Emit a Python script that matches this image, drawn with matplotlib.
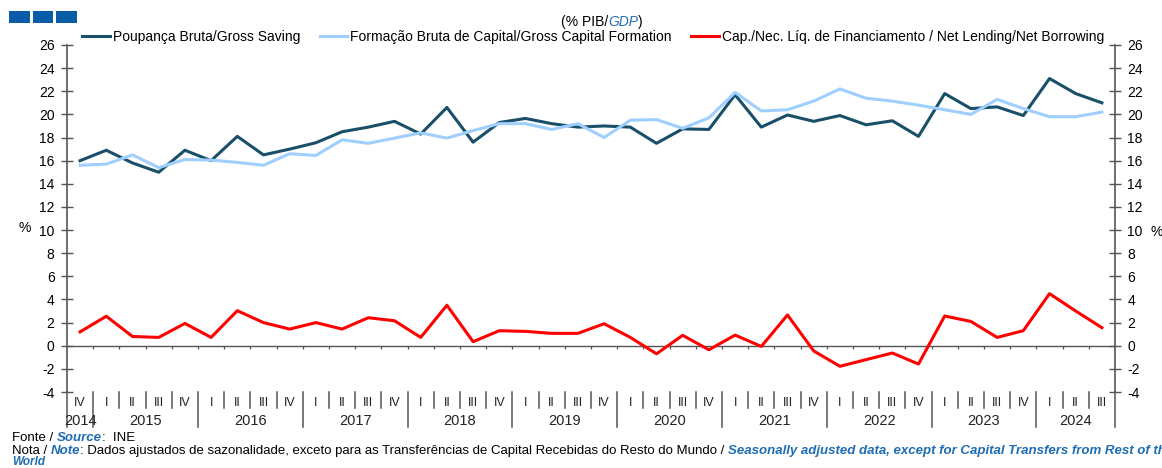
import numpy as np
import matplotlib.pyplot as plt
from matplotlib.patches import Rectangle

plt.rcParams['font.family'] = ['Liberation Sans', 'DejaVu Sans']
plt.rcParams['axes.unicode_minus'] = False

# ---------------------------
# dados (% PIB), 2014 IV .. 2024 III
# ---------------------------
quarters = ['IV'] + ['I', 'II', 'III', 'IV'] * 9 + ['I', 'II', 'III']
years = ['2014', '2015', '2016', '2017', '2018', '2019', '2020', '2021', '2022', '2023', '2024']

gross_saving = [16.0, 16.9, 15.8, 15.0, 16.9, 16.0, 18.1, 16.5, 17.0, 17.55,
                18.5, 18.9, 19.4, 18.3, 20.6, 17.6, 19.3, 19.65, 19.2, 18.9,
                19.0, 18.9, 17.5, 18.75, 18.7, 21.7, 18.9, 19.95, 19.4, 19.9,
                19.1, 19.45, 18.1, 21.8, 20.5, 20.65, 19.9, 23.1, 21.8, 21.0]
gross_cap_form = [15.6, 15.7, 16.5, 15.4, 16.1, 16.05, 15.85, 15.6, 16.6, 16.45,
                  17.8, 17.5, 17.95, 18.4, 17.95, 18.6, 19.2, 19.2, 18.7, 19.2,
                  18.0, 19.5, 19.55, 18.8, 19.7, 21.9, 20.3, 20.4, 21.15, 22.2,
                  21.4, 21.15, 20.8, 20.4, 20.0, 21.3, 20.5, 19.8, 19.8, 20.2]
net_lending = [1.2, 2.55, 0.8, 0.72, 1.93, 0.72, 3.03, 2.0, 1.44, 2.0,
               1.44, 2.42, 2.16, 0.72, 3.5, 0.35, 1.3, 1.24, 1.07, 1.07,
               1.9, 0.72, -0.7, 0.9, -0.35, 0.92, -0.06, 2.66, -0.45, -1.78,
               -1.2, -0.63, -1.58, 2.57, 2.1, 0.72, 1.3, 4.5, 3.0, 1.56]

W, H = 1162, 468
DARK = '#1a4f6a'
LIGHT = '#9fcfff'
RED = '#ff0000'
BLUE_TXT = '#1f6db3'
AX_COL = '#555555'
FS = 10

fig = plt.figure(figsize=(W / 100, H / 100), dpi=100)
ax_l, ax_r, ax_t, ax_b = 67, 1115, 45, 392
ax = fig.add_axes([ax_l / W, 1 - ax_b / H, (ax_r - ax_l) / W, (ax_b - ax_t) / H])
ax2 = ax.twinx()

x = np.arange(len(quarters))
ax.plot(x, gross_saving, color=DARK, lw=2.2, label='Poupança Bruta/Gross Saving')
ax.plot(x, gross_cap_form, color=LIGHT, lw=2.2, label='Formação Bruta de Capital/Gross Capital Formation')
ax.plot(x, net_lending, color=RED, lw=2.2,
        label='Cap./Nec. Líq. de Financiamento / Net Lending/Net Borrowing')
ax.axhline(0, color=AX_COL, lw=1, zorder=1)
bounds = np.arange(len(quarters) - 1) + 0.5
ax.vlines(bounds, -0.28, 0, color=AX_COL, lw=0.9)

for a in (ax, ax2):
    a.set_xlim(-0.5, len(quarters) - 0.5)
    a.set_ylim(-4, 26)
    a.set_yticks(np.arange(-4, 27, 2))
    for s in ('top', 'bottom'):
        a.spines[s].set_visible(False)
    for s in ('left', 'right'):
        a.spines[s].set_color(AX_COL)
        a.spines[s].set_linewidth(1.2)
    a.tick_params(axis='y', direction='inout', length=8, width=1, color=AX_COL,
                  labelsize=FS, pad=5)
ax.set_xticks([])
ax2.spines['left'].set_visible(False)
ax.spines['right'].set_visible(False)

# eixo de categorias (trimestres / anos)
def ay(px):
    return (ax_b - px) / (ax_b - ax_t)

trans = ax.get_xaxis_transform()
for i, q in enumerate(quarters):
    ax.text(i, ay(403), q, transform=trans, ha='center', va='center', fontsize=FS - 1, color='#222222')
year_pos = [0] + [1.5 + 4 * k + 1 for k in range(9)] + [38]
for xp, yr in zip(year_pos, years):
    ax.text(xp, ay(421), yr, transform=trans, ha='center', va='center', fontsize=FS + 0.5, color='#222222')
for b in np.arange(-0.5, len(quarters), 1.0):
    is_year = b in (-0.5, 0.5, len(quarters) - 0.5) or (b - 0.5) % 4 == 0
    bottom = 427 if is_year else 408
    ax.plot([b, b], [ay(392), ay(bottom)], transform=trans, color=AX_COL, lw=1.1, clip_on=False)

fig.text(25 / W, 1 - 228 / H, '%', fontsize=FS, ha='center', va='center')
fig.text(1157 / W, 1 - 232 / H, '%', fontsize=FS, ha='center', va='center')

fig.legend(loc='center', bbox_to_anchor=(593 / W, 1 - 37 / H), ncol=3, frameon=False,
           fontsize=FS, handlelength=2.0, handletextpad=0.2, columnspacing=1.4)

renderer = fig.canvas.get_renderer()

def seq_text(x_px, y_px, parts, size=FS, center=False):
    objs = []
    xc = x_px
    for s, kw in parts:
        t = fig.text(xc / W, 1 - y_px / H, s, va='center', ha='left', fontsize=size, **kw)
        xc += t.get_window_extent(renderer=renderer).width
        objs.append(t)
    if center:
        shift = (xc - x_px) / 2
        for t in objs:
            px, py = t.get_position()
            t.set_position((px - shift / W, py))

blue_it = dict(color=BLUE_TXT, style='italic')
blue_bi = dict(color=BLUE_TXT, style='italic', weight='bold')
seq_text(602, 22, [('(% PIB/', {}), ('GDP', blue_it), (')', {})], center=True)
seq_text(12, 438, [('Fonte / ', {}), ('Source', blue_bi), (':  INE', {})], size=9.5)
seq_text(12, 451, [('Nota / ', {}), ('Note', blue_bi),
                   (': Dados ajustados de sazonalidade, exceto para as Transferências de Capital '
                    'Recebidas do Resto do Mundo / ', {}),
                   ('Seasonally adjusted data, except for Capital Transfers from Rest of the', blue_bi)],
         size=9.5)
seq_text(12, 462, [('World', blue_bi)], size=8.5)

for x0 in (9, 32.5, 56):
    fig.patches.append(Rectangle((x0 / W, 1 - 23 / H), 20.5 / W, 12 / H,
                                 transform=fig.transFigure, color='#0a5ca8', lw=0))

fig.savefig('out.png', dpi=100)
